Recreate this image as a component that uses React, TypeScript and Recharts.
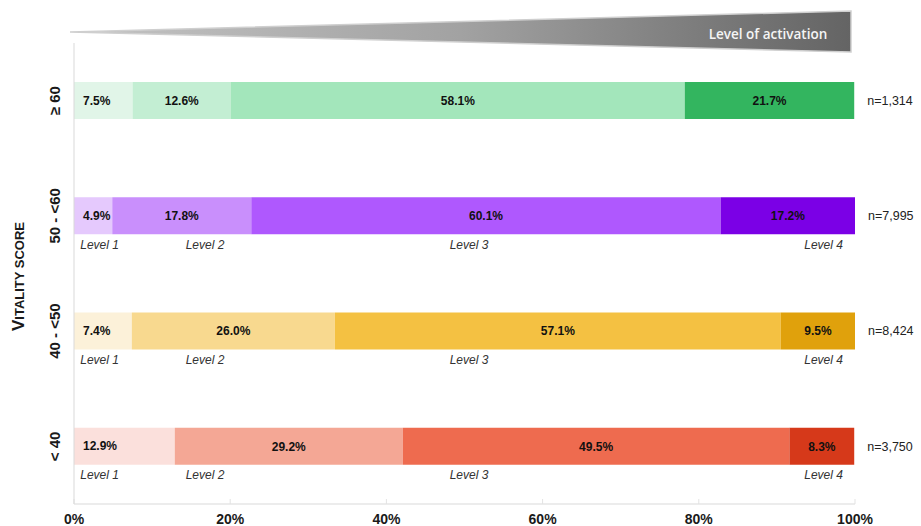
import React from 'react';
import { BarChart, Bar, XAxis, YAxis, Cell, LabelList, ReferenceDot } from 'recharts';

// ---- data ----
const categories = ['≥ 60', '50 - <60', '40 - <50', '< 40'];
const level1 = [7.5, 4.9, 7.4, 12.9];
const level2 = [12.6, 17.8, 26.0, 29.2];
const level3 = [58.1, 60.1, 57.1, 49.5];
const level4 = [21.7, 17.2, 9.5, 8.3];
const sampleSizes = ['n=1,314', 'n=7,995', 'n=8,424', 'n=3,750'];
const xTicks = [0, 20, 40, 60, 80, 100];
const levelNames = ['Level 1', 'Level 2', 'Level 3', 'Level 4'];
const levelLabelRows = ['50 - <60', '40 - <50', '< 40'];
const levelLabelX = [0.8, 14.3, 48.1, 93.5];

// ---- colours per row (level1..level4) ----
const palette: string[][] = [
  ['#e1f5e8', '#c3eed3', '#a3e6bb', '#33b55f'],
  ['#e5c9fd', '#c98ffc', '#af58fe', '#7b00e6'],
  ['#fcf1d9', '#f8d98f', '#f4c142', '#e0a10c'],
  ['#fbe0dc', '#f4a795', '#ee6b4f', '#d6391a'],
];

const data = categories.map((cat, i) => ({
  cat,
  l1: level1[i],
  l2: level2[i],
  l3: level3[i],
  l4: level4[i],
  n: sampleSizes[i],
}));

const FONT = 'Liberation Sans, Arial, sans-serif';
const fmt = (v: any) => `${Number(v).toFixed(1)}%`;

const YTick = (props: any) => {
  const { y, payload } = props;
  const bx = 60;
  return (
    <text
      x={bx}
      y={y}
      transform={`rotate(-90, ${bx}, ${y})`}
      textAnchor="middle"
      fontFamily={FONT}
      fontWeight="bold"
      fontSize={15}
      fill="#1a1a1a"
    >
      {payload.value}
    </text>
  );
};

const YTitle = (props: any) => {
  const vb = props.viewBox || {};
  const cy = (vb.y ?? 43) + (vb.height ?? 461) / 2 + 3;
  const bx = 24;
  return (
    <text
      x={bx}
      y={cy}
      transform={`rotate(-90, ${bx}, ${cy})`}
      textAnchor="middle"
      fontFamily={FONT}
      fontWeight="bold"
      fill="#1a1a1a"
    >
      <tspan fontSize={17}>V</tspan>
      <tspan fontSize={13}>ITALITY SCORE</tspan>
    </text>
  );
};

const FirstLabel = (props: any) => {
  const { x, y, height, value } = props;
  return (
    <text
      x={x + 9}
      y={y + height / 2}
      dominantBaseline="central"
      fontFamily={FONT}
      fontWeight="bold"
      fontSize={12}
      fill="#111"
    >
      {fmt(value)}
    </text>
  );
};

const makeLevelLabel = (text: string) => (props: any) => {
  const vb = props.viewBox || {};
  return (
    <text
      x={vb.x}
      y={vb.y + 33}
      fontFamily={FONT}
      fontStyle="italic"
      fontSize={12}
      fill="#333"
    >
      {text}
    </text>
  );
};

const seriesKeys = ['l1', 'l2', 'l3', 'l4'];

export default function App() {
  return (
    <div style={{ position: 'absolute', left: 0, top: 0, width: 921, height: 526, background: '#fff' }}>
      <svg width={921} height={526} style={{ position: 'absolute', left: 0, top: 0 }}>
        <defs>
          <linearGradient id="actGrad" x1="0" y1="0" x2="1" y2="0">
            <stop offset="0%" stopColor="#c4c4c4" />
            <stop offset="50%" stopColor="#a2a2a2" />
            <stop offset="100%" stopColor="#646464" />
          </linearGradient>
        </defs>
        <polygon
          points="70,32 851,11 851,52"
          fill="url(#actGrad)"
          stroke="#cfcfcf"
          strokeWidth={1.5}
          strokeLinejoin="miter"
        />
        <text
          x={768}
          y={39}
          textAnchor="middle"
          fontFamily="'Open Sans', sans-serif"
          fontWeight={600}
          fontSize={13.5}
          fill="#f5f5f5"
        >
          Level of activation
        </text>
      </svg>
      <div style={{ position: 'absolute', left: 0, top: 0 }}>
        <BarChart
          width={921}
          height={526}
          data={data}
          layout="vertical"
          margin={{ top: 43, right: 66, bottom: 0, left: 0 }}
        >
          <XAxis
            type="number"
            domain={[0, 100]}
            ticks={xTicks}
            allowDataOverflow
            height={22}
            tickFormatter={(v: any) => `${v}%`}
            axisLine={{ stroke: '#d9d9d9' }}
            tickLine={{ stroke: '#e3e3e3' }}
            tickSize={-5}
            tickMargin={15}
            tick={{ fontFamily: FONT, fontWeight: 'bold', fontSize: 14, fill: '#1a1a1a' }}
          />
          <YAxis
            type="category"
            dataKey="cat"
            width={74}
            axisLine={{ stroke: '#d9d9d9' }}
            tickLine={false}
            tick={<YTick />}
            label={{ content: <YTitle /> } as any}
          />
          {seriesKeys.map((key, li) => (
            <Bar key={key} dataKey={key} stackId="a" barSize={37} isAnimationActive={false}>
              {data.map((_, ri) => (
                <Cell key={ri} fill={palette[ri][li]} />
              ))}
              {li === 0 ? (
                <LabelList dataKey={key} content={<FirstLabel />} />
              ) : (
                <LabelList
                  dataKey={key}
                  position="center"
                  formatter={fmt}
                  style={{ fontFamily: FONT, fontWeight: 'bold', fontSize: 12, fill: '#111' }}
                />
              )}
              {li === 3 && (
                <LabelList
                  dataKey="n"
                  position="right"
                  offset={13}
                  style={{ fontFamily: FONT, fontSize: 12.5, fill: '#222' }}
                />
              )}
            </Bar>
          ))}
          {levelLabelRows.map((row) =>
            levelNames.map((name, i) => (
              <ReferenceDot
                key={row + name}
                x={levelLabelX[i]}
                y={row}
                r={0}
                fill="none"
                stroke="none"
                label={makeLevelLabel(name)}
              />
            ))
          )}
        </BarChart>
      </div>
    </div>
  );
}
